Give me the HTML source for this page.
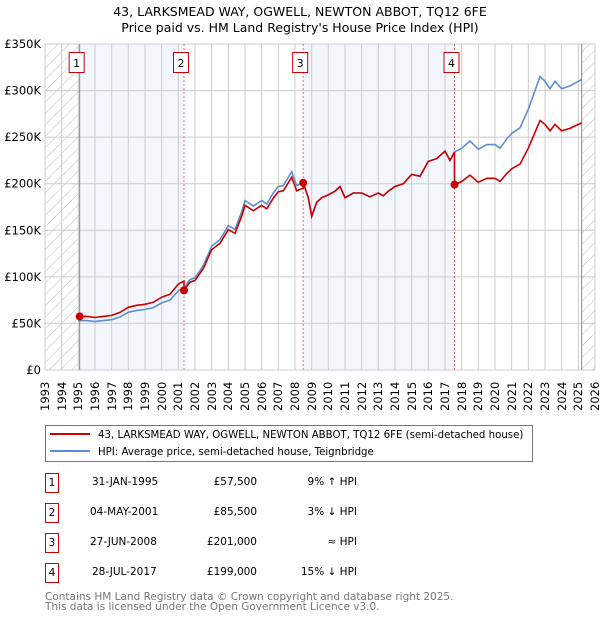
<!DOCTYPE html>
<html><head><meta charset="utf-8"><style>
body{margin:0;background:#fff;font-family:"DejaVu Sans","Liberation Sans",sans-serif;position:relative;width:600px;height:620px;overflow:hidden;}
svg text{font-family:"DejaVu Sans","Liberation Sans",sans-serif;}
.xl{position:absolute;top:375px;width:14px;height:36px;writing-mode:vertical-rl;transform:rotate(180deg);font-size:11.5px;line-height:14px;white-space:nowrap;text-align:left;}
.row{position:absolute;left:0;width:600px;height:20px;font-size:10.5px;}
.row span{position:absolute;top:3px;white-space:nowrap;}
.box{position:absolute;left:45px;top:0;width:12px;height:18px;border:1px solid #cc0000;text-align:center;line-height:18px;font-size:10.5px;}
</style></head><body>
<svg style="position:absolute;left:0;top:0" width="600" height="620" viewBox="0 0 600 620" xmlns="http://www.w3.org/2000/svg">
<defs><pattern id="hatch" patternUnits="userSpaceOnUse" width="8" height="8" patternTransform="rotate(45)"><line x1="0" y1="0" x2="0" y2="8" stroke="#bbb" stroke-width="1"/></pattern></defs>
<text x="300" y="16" text-anchor="middle" font-size="12.5">43, LARKSMEAD WAY, OGWELL, NEWTON ABBOT, TQ12 6FE</text>
<text x="300" y="32" text-anchor="middle" font-size="12.5">Price paid vs. HM Land Registry's House Price Index (HPI)</text>
<g id="plot"></g>
<g>
<rect x="45.5" y="425.5" width="487" height="36" fill="#fff" stroke="#777"/>
<line x1="50" y1="434" x2="90" y2="434" stroke="#cc0000" stroke-width="2"/>
<text x="98" y="438" font-size="10.2">43, LARKSMEAD WAY, OGWELL, NEWTON ABBOT, TQ12 6FE (semi-detached house)</text>
<line x1="50" y1="451" x2="90" y2="451" stroke="#5b8fd0" stroke-width="2"/>
<text x="98" y="455" font-size="10.2">HPI: Average price, semi-detached house, Teignbridge</text>
</g>
<text x="45" y="600" font-size="10.5" fill="#777">Contains HM Land Registry data © Crown copyright and database right 2025.</text>
<text x="45" y="610" font-size="10.5" fill="#777">This data is licensed under the Open Government Licence v3.0.</text>
</svg>
<div id="xlabels"></div>
<div>
<div class="row" style="top:473px"><div class="box">1</div><span style="left:92px">31-JAN-1995</span><span style="right:343px">£57,500</span><span style="right:243px">9% ↑ HPI</span></div>
<div class="row" style="top:503px"><div class="box">2</div><span style="left:90px">04-MAY-2001</span><span style="right:343px">£85,500</span><span style="right:243px">3% ↓ HPI</span></div>
<div class="row" style="top:533px"><div class="box">3</div><span style="left:90px">27-JUN-2008</span><span style="right:343px">£201,000</span><span style="right:243px">≈ HPI</span></div>
<div class="row" style="top:563px"><div class="box">4</div><span style="left:92px">28-JUL-2017</span><span style="right:343px">£199,000</span><span style="right:243px">15% ↓ HPI</span></div>
</div>
<script>
const hpiYears=[1995.0,1995.5,1996.0,1996.5,1997.0,1997.5,1998.0,1998.5,1999.0,1999.5,2000.0,2000.5,2001.0,2001.34,2001.7,2002.0,2002.5,2003.0,2003.5,2004.0,2004.4,2004.8,2005.0,2005.5,2006.0,2006.3,2006.7,2007.0,2007.3,2007.8,2008.1,2008.49,2008.8,2009.0,2009.3,2009.6,2010.0,2010.4,2010.7,2011.0,2011.5,2012.0,2012.5,2013.0,2013.3,2013.6,2014.0,2014.5,2015.0,2015.5,2016.0,2016.5,2017.0,2017.3,2017.57,2018.0,2018.5,2019.0,2019.5,2020.0,2020.3,2020.7,2021.0,2021.5,2022.0,2022.4,2022.7,2023.0,2023.3,2023.6,2024.0,2024.5,2025.0,2025.2];
const hpiValues=[53,53,52,53,54,57,62,64,65,67,72,75,85,88,97,99,112,133,140,155,151,170,182,176,182,178,190,197,198,213,198,201,185,165,180,185,188,192,197,185,190,190,186,190,187,192,197,200,210,208,224,227,235,225,234,238,246,237,242,242,238,248,254,260,280,300,315,310,302,310,302,305,310,312];
const saleYears=[1995.08,2001.34,2008.49,2017.57];
const salePrices=[57.5,85.5,201,199];
const saleLabels=["1","2","3","4"];
const yTicks=[0,50,100,150,200,250,300,350];
const yTickLabels=["£0","£50K","£100K","£150K","£200K","£250K","£300K","£350K"];
const xTicks=[1993,1994,1995,1996,1997,1998,1999,2000,2001,2002,2003,2004,2005,2006,2007,2008,2009,2010,2011,2012,2013,2014,2015,2016,2017,2018,2019,2020,2021,2022,2023,2024,2025,2026];

const NS="http://www.w3.org/2000/svg";
const L=45,R=595,T=44,B=370,x0=1993,x1=2026,ymax=350;
const X=v=>L+(v-x0)/(x1-x0)*(R-L);
const Y=v=>B-v/ymax*(B-T);
const plot=document.getElementById('plot');
function mk(tag,attrs,parent){const e=document.createElementNS(NS,tag);for(const k in attrs)e.setAttribute(k,attrs[k]);(parent||plot).appendChild(e);return e;}
function hpiAt(t){for(let i=0;i<hpiYears.length-1;i++){if(t>=hpiYears[i]&&t<=hpiYears[i+1]){const f=(t-hpiYears[i])/(hpiYears[i+1]-hpiYears[i]);return hpiValues[i]+f*(hpiValues[i+1]-hpiValues[i]);}}return hpiValues[hpiValues.length-1];}

let e;
e=mk('rect',{x:X(1993),y:T,width:X(saleYears[0])-X(1993),height:B-T,fill:'url(#hatch)'});


e=mk('rect',{x:X(2025.2),y:T,width:R-X(2025.2),height:B-T,fill:'url(#hatch)'});


for(let i=0;i<saleYears.length;i+=2){
  const nx=i+1<saleYears.length?saleYears[i+1]:2025.2;
  e=mk('rect',{x:X(saleYears[i]),y:T,width:X(nx)-X(saleYears[i]),height:B-T,fill:'#f3f6fd'});
  
  
}
const xl=document.getElementById('xlabels');
xTicks.forEach(t=>{
  e=mk('line',{x1:X(t),x2:X(t),y1:T,y2:B,stroke:'#ccc','stroke-width':1});
  
  
  const d=document.createElement('div');
  d.className='xl';
  d.style.left=(X(t)-7)+'px';
  d.textContent=t;
  
  
  xl.appendChild(d);
});
yTicks.forEach((t,i)=>{
  e=mk('line',{x1:L,x2:R,y1:Y(t),y2:Y(t),stroke:'#ccc','stroke-width':1});
  
  
  e=mk('text',{x:L-4,y:Y(t)+4,'font-size':11.5,'text-anchor':'end'});
  e.textContent=yTickLabels[i];
  
  
});
e=mk('rect',{x:L,y:T,width:R-L,height:B-T,fill:'none',stroke:'#ccc'});


e=mk('line',{x1:X(2025.2),x2:X(2025.2),y1:T,y2:B,stroke:'#888','stroke-width':1});



saleYears.forEach((s,i)=>{
  e=mk('line',{x1:X(s),x2:X(s),y1:T,y2:B,stroke:i===0?'#888':'#ff6666','stroke-width':1,'stroke-dasharray':i===0?'none':'2,2'});
  
  
});

const hp=[];
hpiYears.forEach((t,i)=>{if(t>=1995)hp.push(X(t).toFixed(1)+','+Y(hpiValues[i]).toFixed(1));});
e=mk('polyline',{points:hp.join(' '),fill:'none',stroke:'#5b8fd0','stroke-width':1.6});



let pts=[];
for(let s=0;s<saleYears.length;s++){
  const start=saleYears[s],end=s+1<saleYears.length?saleYears[s+1]:2025.2;
  const ratio=salePrices[s]/hpiAt(start);
  pts.push([start,salePrices[s]]);
  hpiYears.forEach((t,i)=>{if(t>start&&t<end)pts.push([t,hpiValues[i]*ratio]);});
  pts.push([end,hpiAt(end)*ratio]);
}
e=mk('polyline',{points:pts.map(p=>X(p[0]).toFixed(1)+','+Y(p[1]).toFixed(1)).join(' '),fill:'none',stroke:'#cc0000','stroke-width':1.6});



saleYears.forEach((s,i)=>{
  e=mk('circle',{cx:X(s),cy:Y(salePrices[i]),r:4,fill:'#cc0000'});
  
  
  e=mk('rect',{x:X(s)-10.5,y:52.5,width:15,height:20,fill:'#fff',stroke:'#cc0000'});
  
  
  e=mk('text',{x:X(s)-3,y:67,'font-size':11,'text-anchor':'middle'});
  e.textContent=saleLabels[i];
  
  
});
</script>
</body></html>
